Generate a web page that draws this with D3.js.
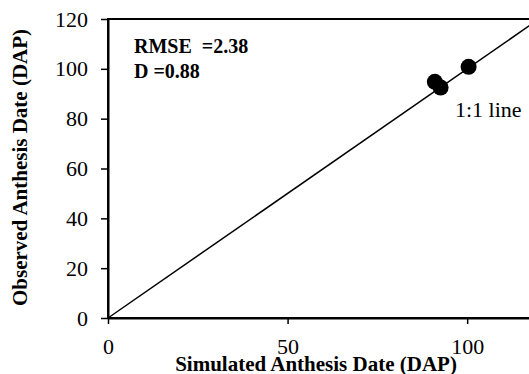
<!DOCTYPE html>
<html>
<head>
<meta charset="utf-8">
<script src="https://cdn.jsdelivr.net/npm/d3@7"></script>
<style>
    body { margin: 0; background: white; }
    svg { display: block; }
</style>
</head>
<body>
<div id="chart"></div>
<script>
// Simulated vs observed anthesis dates (days after planting)
let simulated = [91.0, 92.6, 100.4];
let observed = [94.8, 92.5, 100.8];

// Axis ticks and limits
let x_ticks = [0, 50, 100];
let y_ticks = [0, 20, 40, 60, 80, 100, 120];
let x_limits = [0, 120];
let y_limits = [0, 120];

// Statistics shown in the corner
let stats_labels = ["RMSE  =2.38", "D =0.88"];

let width = 529,
    height = 374,
    margin = {top: 19, left: 108},
    plot_width = 431,
    plot_height = 299;

let svg = d3.select("#chart").append("svg")
    .attr("width", width)
    .attr("height", height)
    .style("font-family", "'Liberation Serif', 'Times New Roman', serif");

let x = d3.scaleLinear().domain(x_limits).range([margin.left, margin.left + plot_width]),
    y = d3.scaleLinear().domain(y_limits).range([margin.top + plot_height, margin.top]);

// Plot frame (right edge falls outside the window)
svg.append("rect")
    .attr("x", x(x_limits[0]))
    .attr("y", y(y_limits[1]))
    .attr("width", x(x_limits[1]) - x(x_limits[0]))
    .attr("height", y(y_limits[0]) - y(y_limits[1]))
    .attr("fill", "none")
    .attr("stroke", "black")
    .attr("stroke-width", 2);

// x axis
let x_axis = svg.append("g")
    .attr("transform", "translate(0," + y(0) + ")")
    .call(d3.axisBottom(x).tickValues(x_ticks).tickSize(6).tickSizeOuter(0).tickPadding(14));

// y axis
let y_axis = svg.append("g")
    .attr("transform", "translate(" + x(0) + ",0)")
    .call(d3.axisLeft(y).tickValues(y_ticks).tickSize(7).tickSizeOuter(0).tickPadding(13));

[x_axis, y_axis].forEach(function(axis) {
    axis.select(".domain").attr("stroke-width", 2);
    axis.selectAll(".tick line").attr("stroke-width", 1.5);
    axis.selectAll(".tick text")
        .attr("fill", "black")
        .style("font-family", "'Liberation Serif', 'Times New Roman', serif")
        .style("font-size", "22px");
});

// 1:1 line
svg.append("line")
    .attr("x1", x(0))
    .attr("y1", y(0))
    .attr("x2", x(120))
    .attr("y2", y(120))
    .attr("stroke", "black")
    .attr("stroke-width", 1.5);

svg.append("text")
    .attr("x", 455)
    .attr("y", 117)
    .style("font-size", "22px")
    .text("1:1 line");

// Data points
svg.selectAll("circle.obs")
    .data(simulated)
    .enter()
    .append("circle")
        .attr("class", "obs")
        .attr("cx", function(d) { return x(d); })
        .attr("cy", function(d, i) { return y(observed[i]); })
        .attr("r", 8)
        .attr("fill", "black");

// RMSE and D labels
svg.selectAll("text.stats")
    .data(stats_labels)
    .enter()
    .append("text")
        .attr("class", "stats")
        .attr("x", 134)
        .attr("y", function(d, i) { return 53 + i * 25; })
        .style("font-size", "20px")
        .style("font-weight", "bold")
        .style("white-space", "pre")
        .text(function(d) { return d; });

// Axis titles
svg.append("text")
    .attr("x", 316)
    .attr("y", 371)
    .attr("text-anchor", "middle")
    .style("font-size", "21px")
    .style("font-weight", "bold")
    .text("Simulated Anthesis Date (DAP)");

svg.append("text")
    .attr("transform", "translate(27," + 167.5 + ") rotate(-90)")
    .attr("text-anchor", "middle")
    .style("font-size", "21px")
    .style("font-weight", "bold")
    .text("Observed Anthesis Date (DAP)");
</script>
</body>
</html>
